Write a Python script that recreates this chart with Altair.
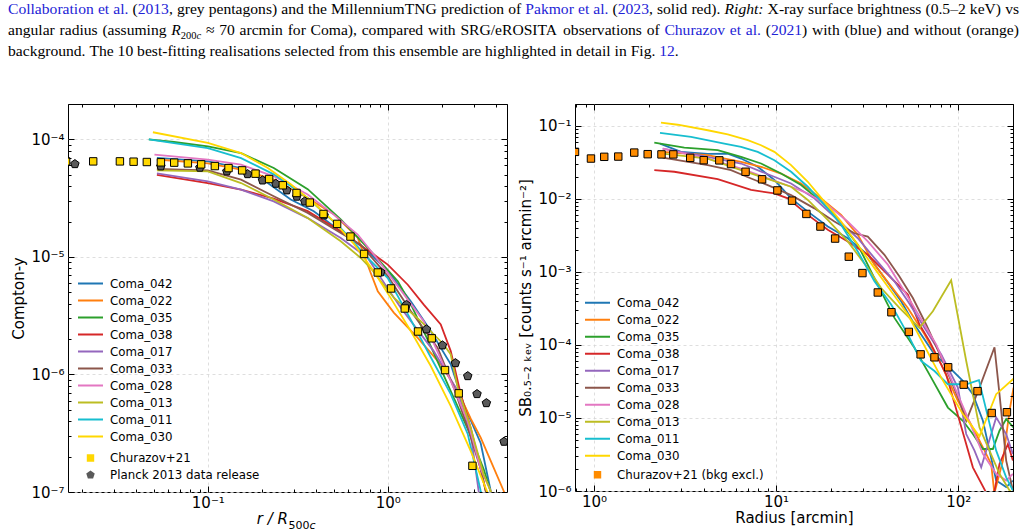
import math
import altair as alt
import pandas as pd

# ------------------------------------------------------------------ series
names = ["Coma_042", "Coma_022", "Coma_035", "Coma_038", "Coma_017",
         "Coma_033", "Coma_028", "Coma_013", "Coma_011", "Coma_030"]
colors = ["#1f77b4", "#ff7f0e", "#2ca02c", "#d62728", "#9467bd",
          "#8c564b", "#e377c2", "#bcbd22", "#17becf", "#ffd700"]

# Compton-y profiles against r / R500c
ycomp_r = {
    "Coma_042": [0.0521, 0.1, 0.153, 0.2154, 0.289, 0.388, 0.548, 0.774, 1.0, 1.342, 1.734, 2.239, 2.643, 3.286, 3.735, 3.85],
    "Coma_022": [0.0521, 0.1, 0.153, 0.2325, 0.359, 0.501, 0.681, 0.736, 0.804, 0.88, 1.08, 1.468, 1.97, 2.448, 2.892, 3.286, 3.735, 4.41, 4.7],
    "Coma_035": [0.047, 0.0648, 0.1, 0.153, 0.2325, 0.359, 0.548, 0.836, 1.137, 1.342, 1.734, 2.239, 2.783, 3.415, 3.735, 3.83],
    "Coma_038": [0.0521, 0.1, 0.153, 0.2325, 0.359, 0.548, 0.836, 1.0, 1.292, 1.585, 1.97, 2.239, 2.545, 2.892, 3.286, 3.503, 3.6],
    "Coma_017": [0.0521, 0.1, 0.153, 0.2325, 0.359, 0.548, 0.774, 1.0, 1.181, 1.8, 2.448, 2.892, 3.2, 3.3],
    "Coma_033": [0.0521, 0.1, 0.153, 0.2325, 0.359, 0.548, 0.708, 1.0, 1.342, 1.895, 2.33, 2.783, 3.286, 3.503, 3.6],
    "Coma_028": [0.0505, 0.1, 0.153, 0.2325, 0.359, 0.501, 0.681, 0.836, 1.137, 1.585, 2.239, 2.783, 3.286, 3.735, 3.85],
    "Coma_013": [0.0521, 0.1, 0.153, 0.2325, 0.359, 0.548, 0.708, 0.804, 1.08, 1.525, 2.047, 2.239, 2.448, 2.892, 3.415, 3.735, 3.85],
    "Coma_011": [0.047, 0.0648, 0.1, 0.153, 0.2325, 0.359, 0.548, 0.774, 1.0, 1.292, 1.734, 2.239, 2.783, 3.286, 3.4],
    "Coma_030": [0.0495, 0.1, 0.153, 0.2154, 0.289, 0.388, 0.501, 0.648, 0.836, 1.039, 1.342, 1.734, 2.239, 2.892, 3.594, 3.7],
}
ycomp_v = {
    "Coma_042": [6.95e-5, 6.5e-5, 5.71e-5, 4.26e-5, 3.08e-5, 2.45e-5, 1.65e-5, 1.12e-5, 7.6e-6, 4.2e-6, 2.34e-6, 1.22e-6, 5.6e-7, 2.6e-7, 1.02e-7, 8.5e-8],
    "Coma_022": [6.74e-5, 6.25e-5, 5.53e-5, 4.55e-5, 3.17e-5, 2.31e-5, 1.46e-5, 1.05e-5, 7.3e-6, 5.11e-6, 3.36e-6, 2.05e-6, 1.22e-6, 7.23e-7, 4.2e-7, 2.9e-7, 1.84e-7, 1.02e-7, 8e-8],
    "Coma_035": [1.0e-4, 9.5e-5, 8.72e-5, 7.65e-5, 5.71e-5, 3.77e-5, 2.09e-5, 1.05e-5, 6.22e-6, 3.96e-6, 1.74e-6, 7.23e-7, 3.45e-7, 1.56e-7, 1.0e-7, 9e-8],
    "Coma_038": [5.0e-5, 4.25e-5, 3.74e-5, 3.13e-5, 2.45e-5, 1.65e-5, 1.05e-5, 8.6e-6, 5.8e-6, 3.93e-6, 2.66e-6, 1.58e-6, 6.8e-7, 3.5e-7, 1.57e-7, 1.02e-7, 9e-8],
    "Coma_017": [5.13e-5, 4.4e-5, 3.74e-5, 2.97e-5, 2.14e-5, 1.45e-5, 9.8e-6, 5.4e-6, 3.69e-6, 1.58e-6, 7.23e-7, 3.12e-7, 1.02e-7, 8.5e-8],
    "Coma_033": [5.6e-5, 5.44e-5, 4.55e-5, 3.28e-5, 2.37e-5, 1.6e-5, 1.27e-5, 6.86e-6, 3.46e-6, 1.68e-6, 7.7e-7, 3.5e-7, 1.57e-7, 1.02e-7, 9e-8],
    "Coma_028": [7.42e-5, 6.72e-5, 6.1e-5, 4.85e-5, 3.4e-5, 2.29e-5, 1.55e-5, 1.05e-5, 5.64e-6, 2.84e-6, 8.8e-7, 4.0e-7, 1.57e-7, 1.02e-7, 9e-8],
    "Coma_013": [5.45e-5, 5.35e-5, 4.25e-5, 3.08e-5, 2.14e-5, 1.36e-5, 9.8e-6, 8.0e-6, 4.5e-6, 2.84e-6, 1.8e-6, 1.48e-6, 7.7e-7, 3.5e-7, 1.4e-7, 1.02e-7, 9e-8],
    "Coma_011": [1.0e-4, 9.3e-5, 8.43e-5, 6.93e-5, 5.04e-5, 3.17e-5, 1.76e-5, 9.8e-6, 6.6e-6, 3.26e-6, 1.4e-6, 6.8e-7, 3.12e-7, 1.02e-7, 8.5e-8],
    "Coma_030": [1.15e-4, 9.35e-5, 7.65e-5, 5.71e-5, 4.15e-5, 2.86e-5, 2.01e-5, 1.29e-5, 7.56e-6, 4.46e-6, 2.34e-6, 1.18e-6, 5.39e-7, 2.23e-7, 9.8e-8, 9e-8],
}

churazov_y_r = [0.0163, 0.02306, 0.03245, 0.03866, 0.04581, 0.05483, 0.06502, 0.07745, 0.0918,
                0.1094, 0.1303, 0.1551, 0.1841, 0.2191, 0.261, 0.3111, 0.3687, 0.4393, 0.5229,
                0.6205, 0.7384, 0.88, 1.043, 1.243, 1.473, 1.756, 2.081, 2.48, 2.955]
churazov_y_v = [6.5e-5, 6.5e-5, 6.5e-5, 6.46e-5, 6.42e-5, 6.38e-5, 6.34e-5, 6.25e-5, 6.13e-5,
                5.93e-5, 5.7e-5, 5.45e-5, 5.11e-5, 4.6e-5, 4.07e-5, 3.5e-5, 2.9e-5, 2.32e-5, 1.91e-5,
                1.49e-5, 1.06e-5, 7.37e-6, 5.39e-6, 3.64e-6, 2.32e-6, 2.03e-6, 1.09e-6, 6.91e-7, 1.67e-7]

planck_r = [0.01824, 0.0548, 0.0903, 0.1275, 0.1662, 0.2013, 0.2386, 0.2748, 0.3122, 0.3458,
            0.4426, 0.9145, 1.27, 1.641, 2.013, 2.377, 2.783, 3.134, 3.534, 4.428]
planck_v = [6.17e-5, 5.9e-5, 5.75e-5, 5.35e-5, 5.07e-5, 4.48e-5, 4.2e-5, 3.69e-5, 3.26e-5, 2.97e-5,
            2.26e-5, 7.41e-6, 3.91e-6, 2.42e-6, 1.77e-6, 1.25e-6, 9.69e-7, 6.82e-7, 5.71e-7, 2.68e-7]

# X-ray surface brightness (0.5-2 keV) against radius in arcmin
sb_r = {
    "Coma_042": [2.305, 3.006, 4.215, 5.428, 6.424, 7.93, 9.79, 12.09, 14.94, 19.23, 24.77, 31.9, 39.37, 48.62, 57.5, 74.1, 89.6, 106.1, 120.4, 136.7, 161.7, 183.5, 199.7],
    "Coma_022": [2.385, 4.215, 6.424, 8.27, 10.65, 13.72, 17.67, 22.76, 28.11, 34.69, 52.93, 65.3, 80.7, 99.6, 122.9, 151.8, 158.0, 176.1, 191.4, 201.3],
    "Coma_035": [2.145, 3.135, 4.783, 6.424, 8.27, 10.65, 13.72, 17.67, 20.91, 28.11, 34.69, 44.67, 57.5, 71.1, 87.8, 106.1, 120.4, 136.7, 155.1, 168.6, 183.5, 201.3],
    "Coma_038": [2.145, 2.763, 4.783, 7.29, 9.79, 11.6, 14.94, 19.23, 24.77, 31.9, 41.1, 52.93, 61.3, 69.6, 85.9, 101.7, 120.4, 142.5, 155.0, 168.6, 187.5, 199.7],
    "Coma_017": [2.385, 4.215, 6.424, 12.09, 16.23, 28.11, 34.69, 44.67, 52.93, 65.3, 80.7, 99.6, 110.7, 122.9, 133.8, 161.7, 183.5, 199.7],
    "Coma_033": [2.385, 4.215, 5.658, 7.29, 9.0, 12.09, 16.23, 20.91, 26.93, 31.9, 39.37, 47.59, 56.4, 66.7, 82.4, 101.7, 110.7, 130.9, 158.3, 168.6, 183.5, 199.7],
    "Coma_028": [2.385, 4.215, 6.424, 9.0, 12.09, 14.94, 19.23, 24.77, 31.9, 41.1, 54.0, 75.7, 110.7, 136.7, 161.7, 183.5, 199.7],
    "Coma_013": [2.385, 4.215, 6.424, 12.09, 14.94, 19.23, 24.77, 31.9, 37.76, 47.59, 61.3, 72.6, 91.5, 110.7, 130.9, 168.6, 191.4, 201.0],
    "Coma_011": [2.305, 3.412, 5.199, 6.424, 7.93, 9.79, 12.09, 14.94, 19.23, 22.76, 28.11, 34.69, 42.85, 52.93, 62.6, 74.1, 87.8, 110.7, 130.0, 161.7, 183.5, 199.7],
    "Coma_030": [2.334, 2.884, 4.215, 5.428, 6.99, 8.27, 9.79, 12.09, 14.94, 18.42, 22.76, 28.11, 34.69, 42.85, 52.93, 80.7, 106.1, 130.9, 161.7, 201.3],
}
sb_v = {
    "Coma_042": [0.0574, 0.0442, 0.0415, 0.0419, 0.0358, 0.0276, 0.0182, 0.0102, 6.71e-3, 4.19e-3, 2.9e-3, 1.72e-3, 8.25e-4, 3.97e-4, 1.91e-4, 7.44e-5, 4.89e-5, 3.22e-5, 2.12e-5, 9.16e-6, 1.39e-6, 1.13e-6, 1.39e-6],
    "Coma_022": [0.0442, 0.040, 0.0323, 0.0276, 0.0223, 0.0163, 0.0102, 6.05e-3, 3.23e-3, 1.26e-3, 3.22e-4, 1.4e-4, 5.44e-5, 1.72e-5, 6.69e-6, 2.35e-6, 9.3e-7, 2.61e-6, 1.24e-5, 2.61e-5],
    "Coma_035": [0.0592, 0.0506, 0.0466, 0.0378, 0.0306, 0.0223, 0.0155, 9.19e-3, 6.05e-3, 2.36e-3, 8.25e-4, 2.35e-4, 9.16e-5, 3.57e-5, 1.39e-5, 9.16e-6, 6.03e-6, 3.76e-6, 3.76e-6, 6.69e-6, 9.66e-6, 7.42e-6],
    "Coma_038": [0.0249, 0.0236, 0.0187, 0.0133, 0.0119, 0.0102, 6.05e-3, 3.78e-3, 2.62e-3, 1.72e-3, 9.19e-4, 4.9e-4, 1.91e-4, 1.13e-4, 3.97e-5, 9.16e-6, 2.11e-6, 9.5e-7, 7.5e-7, 2.35e-6, 4.4e-6, 2.61e-6],
    "Coma_017": [0.049, 0.0378, 0.0306, 0.0163, 0.0102, 2.9e-3, 1.55e-3, 7.44e-4, 3.97e-4, 1.72e-4, 7.44e-5, 2.61e-5, 6.03e-6, 3.57e-6, 2.11e-6, 1.02e-5, 6.03e-6, 3.22e-6],
    "Coma_033": [0.0369, 0.0291, 0.0249, 0.0191, 0.0155, 0.0113, 7.44e-3, 4.9e-3, 3.39e-3, 3.06e-3, 1.72e-3, 8.7e-4, 4.4e-4, 1.91e-4, 6.03e-5, 1.72e-5, 9.16e-6, 2.61e-5, 9.3e-5, 2.12e-5, 2.61e-6, 1.02e-6],
    "Coma_028": [0.049, 0.0358, 0.0261, 0.0191, 0.0147, 0.0119, 8.28e-3, 4.9e-3, 2.62e-3, 1.26e-3, 4.19e-4, 1.02e-4, 1.13e-5, 3.22e-6, 1.72e-6, 1.39e-6, 1.72e-6],
    "Coma_013": [0.0419, 0.0358, 0.0249, 0.0147, 9.69e-3, 5.17e-3, 2.62e-3, 1.13e-3, 6.03e-4, 3.22e-4, 1.72e-4, 2.9e-4, 7.68e-4, 6.03e-5, 7.42e-6, 1.72e-6, 1.02e-6, 9e-7],
    "Coma_011": [0.0803, 0.0708, 0.0574, 0.0517, 0.0442, 0.034, 0.0236, 0.0147, 7.44e-3, 4.42e-3, 1.91e-3, 7.44e-4, 3.58e-4, 1.4e-4, 6.03e-5, 4.4e-5, 2.9e-5, 2.9e-5, 3.3e-5, 3.57e-6, 1.54e-6, 1.02e-6],
    "Coma_030": [0.111, 0.104, 0.0874, 0.077, 0.0638, 0.0545, 0.0442, 0.0291, 0.0172, 9.19e-3, 4.9e-3, 2.36e-3, 1.13e-3, 5.44e-4, 2.61e-4, 3.57e-5, 1.13e-5, 5.6e-6, 2.12e-5, 3.45e-5],
}

churazov_sb_r = [0.787, 0.963, 1.139, 1.36, 1.665, 1.973, 2.349, 2.728, 3.378, 4.006, 4.88, 5.658,
                 6.8, 8.38, 10.17, 12.24, 14.67, 17.52, 21.1, 25.09, 29.8, 36.2, 43.0, 53.6, 62.2,
                 74.1, 88.1, 107.2, 127.7, 152.8, 185.2]
churazov_sb_v = [0.0442, 0.0358, 0.0378, 0.0381, 0.0432, 0.0411, 0.0408, 0.0408, 0.0366, 0.034,
                 0.0338, 0.0301, 0.0236, 0.0186, 0.0131, 9.48e-3, 6.24e-3, 4.19e-3, 2.87e-3, 1.62e-3,
                 9.66e-4, 5.24e-4, 2.81e-4, 1.51e-4, 7.44e-5, 6.78e-5, 4.95e-5, 2.86e-5, 2.33e-5,
                 1.17e-5, 1.2e-5]

# ------------------------------------------------------------------ styling
SANS = "DejaVu Sans"
SERIF = "Liberation Serif"
CAP_SIZE = 15.6
SUB_SIZE = 10.5
LINK = "#2323d6"
PENTAGON = "M0,-1.2L1.141,-0.371L0.705,0.971L-0.705,0.971L-1.141,-0.371Z"
GRID = dict(grid=True, gridColor="#d6d6d6", gridDash=[3, 3], gridWidth=0.8)
LABEL = dict(labelFont=SANS, labelFontSize=15, labelColor="black")
TITLE = dict(titleFont=SANS, titleFontSize=15, titleFontWeight="normal", titleColor="black")
LEG_FONT = 11.8
ROW_CLIP = 16.8
SUP = str.maketrans("-0123456789", "⁻⁰¹²³⁴⁵⁶⁷⁸⁹")


def decade_range(lo, hi):
    return range(math.floor(math.log10(lo)) - 1, math.ceil(math.log10(hi)) + 1)


def inside(v, lo, hi):
    return lo * (1 - 1e-9) <= v <= hi * (1 + 1e-9)


def major_ticks(lo, hi):
    return [10.0 ** e for e in decade_range(lo, hi) if inside(10.0 ** e, lo, hi)]


def minor_ticks(lo, hi):
    return [m * 10.0 ** e for e in decade_range(lo, hi) for m in range(2, 10)
            if inside(m * 10.0 ** e, lo, hi)]


def power_labels(vals):
    e = "round(log(datum.value) / LN10)"
    expr = "''"
    for v in vals:
        k = round(math.log10(v))
        expr = f"{e} == {k} ? '10{str(k).translate(SUP)}' : ({expr})"
    return expr


def long_table(rmap, vmap):
    rows = []
    for n in names:
        for i, (r, v) in enumerate(zip(rmap[n], vmap[n])):
            rows.append({"name": n, "x": r, "v": v, "i": i})
    return pd.DataFrame(rows)


def line_legend(x, y):
    return alt.Legend(orient="none", legendX=x, legendY=y, title=None, symbolType="stroke",
                      symbolSize=625, symbolStrokeWidth=2, clipHeight=ROW_CLIP, rowPadding=0,
                      padding=0, labelOffset=6, labelFont=SANS, labelFontSize=LEG_FONT,
                      labelColor="black")


def marker_legend(x, y, size):
    box = max(math.ceil(math.sqrt(size) + 1), LEG_FONT)
    return alt.Legend(orient="none", legendX=x, legendY=y, title=None, symbolSize=size,
                      symbolStrokeColor="black", symbolStrokeWidth=1, symbolOpacity=1,
                      clipHeight=ROW_CLIP, rowPadding=0, padding=0,
                      symbolOffset=13.5 - box / 2, labelOffset=25.5 - box,
                      labelFont=SANS, labelFontSize=LEG_FONT, labelColor="black")


def panel(lines_df, marks_df, mark_domain, mark_shapes, mark_fills, xdom, ydom, W, H,
          ytitle, xtitle, line_leg, mark_leg, extra):
    xs = alt.Scale(type="log", domain=xdom, nice=False)
    ys = alt.Scale(type="log", domain=ydom, nice=False)
    xmaj, xmin = major_ticks(*xdom), minor_ticks(*xdom)
    ymaj, ymin = major_ticks(*ydom), minor_ticks(*ydom)

    x_axis = alt.Axis(orient="bottom", values=xmaj, labelExpr=power_labels(xmaj), ticks=False,
                      domain=False, labelPadding=3, title=xtitle, titlePadding=1,
                      **GRID, **LABEL, **TITLE)
    y_axis = alt.Axis(orient="left", values=ymaj, labelExpr=power_labels(ymaj), ticks=False,
                      domain=False, labelPadding=4, title=ytitle, titlePadding=4,
                      **GRID, **LABEL, **TITLE)

    lines = alt.Chart(lines_df).mark_line(clip=True, strokeWidth=1.8).encode(
        x=alt.X("x:Q", scale=xs, axis=x_axis),
        y=alt.Y("v:Q", scale=ys, axis=y_axis),
        color=alt.Color("name:N", sort=names,
                        scale=alt.Scale(domain=names, range=colors), legend=line_leg),
        order="i:Q",
    )

    markers = alt.Chart(marks_df).mark_point(
        filled=True, stroke="black", strokeWidth=1, size=55, opacity=1, clip=True
    ).encode(
        x=alt.X("x:Q", scale=xs, axis=None),
        y=alt.Y("v:Q", scale=ys, axis=None),
        shape=alt.Shape("src:N", sort=mark_domain,
                        scale=alt.Scale(domain=mark_domain, range=mark_shapes), legend=mark_leg),
        fill=alt.Fill("src:N", sort=mark_domain,
                      scale=alt.Scale(domain=mark_domain, range=mark_fills), legend=mark_leg),
    )

    # inward-pointing major/minor ticks on all four edges
    common = dict(labels=False, domain=False, grid=False, title=None,
                  tickColor="black", tickWidth=1, zindex=2)
    combos = [("top", "right", xmaj, ymaj, 6), ("top", "right", xmin, ymin, 3),
              ("bottom", "left", xmaj, ymaj, 6), ("bottom", "left", xmin, ymin, 3)]
    frame = []
    for xo, yo, xv, yv, size in combos:
        frame.append(alt.Chart(marks_df).mark_point(opacity=0).encode(
            x=alt.X("x:Q", scale=xs,
                    axis=alt.Axis(orient=xo, offset=-H, values=xv, tickSize=size, **common)),
            y=alt.Y("v:Q", scale=ys,
                    axis=alt.Axis(orient=yo, offset=-W, values=yv, tickSize=size, **common)),
        ))

    return alt.layer(lines, markers, *frame, *extra).resolve_axis(
        x="independent", y="independent"
    ).properties(width=W, height=H)


one = pd.DataFrame({"k": [0]})


def label(text, x, y, size=15, color="black", font=SANS, style="normal", align="left"):
    return alt.Chart(one).mark_text(
        text=text, align=align, baseline="alphabetic", font=font, fontSize=size,
        color=color, fontStyle=style
    ).encode(x=alt.value(x), y=alt.value(y))


# ------------------------------------------------------------------ caption above the panels
# Times-compatible advance widths (per 1000 em) used to justify the caption lines
TNR = {" ": 250, "(": 333, ")": 333, ",": 250, "-": 333, ".": 250, "/": 278, ":": 278,
       "–": 500, "≈": 549, "+": 564,
       "A": 722, "B": 667, "C": 667, "D": 722, "E": 611, "F": 556, "G": 722, "H": 722,
       "I": 333, "J": 389, "K": 722, "L": 611, "M": 889, "N": 722, "O": 722, "P": 556,
       "Q": 722, "R": 667, "S": 556, "T": 611, "U": 722, "V": 722, "W": 944, "X": 722,
       "Y": 722, "Z": 611,
       "a": 444, "b": 500, "c": 444, "d": 500, "e": 444, "f": 333, "g": 500, "h": 500,
       "i": 278, "j": 278, "k": 500, "l": 278, "m": 778, "n": 500, "o": 500, "p": 500,
       "q": 500, "r": 333, "s": 389, "t": 278, "u": 500, "v": 500, "w": 722, "x": 500,
       "y": 500, "z": 444}
TNR_ITALIC = {"R": 611, "i": 278, "g": 500, "h": 500, "t": 278, ":": 333, "c": 444}

KIND_STYLE = {  # kind -> (colour, size, italic, baseline shift)
    "text": ("black", CAP_SIZE, False, 0),
    "link": (LINK, CAP_SIZE, False, 0),
    "italic": ("black", CAP_SIZE, True, 0),
    "sub": ("black", SUB_SIZE, False, 3.5),
    "subitalic": ("black", SUB_SIZE, True, 3.5),
}


def run_width(text, kind):
    _, size, italic, _ = KIND_STYLE[kind]
    table = TNR_ITALIC if italic else {}
    return sum(table.get(ch, TNR.get(ch, 500)) for ch in text) / 1000 * size


def words(s, kind="text"):
    return [[(w, kind)] for w in s.split()]


line1 = (words("Collaboration et al.", "link")
         + [[("(", "text"), ("2013", "link"), (",", "text")]]
         + words("grey pentagons) and the MillenniumTNG prediction of")
         + words("Pakmor et al.", "link")
         + [[("(", "text"), ("2023", "link"), (",", "text")]]
         + words("solid red).")
         + words("Right:", "italic")
         + words("X-ray surface brightness (0.5–2 keV) vs"))
line2 = (words("angular radius (assuming")
         + [[("R", "italic"), ("200", "sub"), ("c", "subitalic")]]
         + words("≈ 70 arcmin for Coma), compared with SRG/eROSITA observations of")
         + words("Churazov et al.", "link")
         + [[("(", "text"), ("2021", "link"), (")", "text")]]
         + words("with (blue) and without (orange)"))
line3 = (words("background. The 10 best-fitting realisations selected from this ensemble "
               "are highlighted in detail in Fig.")
         + [[("12", "link"), (".", "text")]])

CAP_LEFT, CAP_RIGHT = -60, 951          # relative to the left plot area
cap_rows = []
for line_words, baseline, justify in [(line1, -90, True), (line2, -69, True), (line3, -48, False)]:
    widths = [sum(run_width(t, k) for t, k in w) for w in line_words]
    if justify:
        gap = (CAP_RIGHT - CAP_LEFT - sum(widths)) / (len(line_words) - 1)
    else:
        gap = TNR[" "] / 1000 * CAP_SIZE
    x = CAP_LEFT
    for w, ww in zip(line_words, widths):
        px = x
        for t, k in w:
            cap_rows.append({"text": t, "kind": k, "px": px, "py": baseline + KIND_STYLE[k][3]})
            px += run_width(t, k)
        x += ww + gap
cap_df = pd.DataFrame(cap_rows)

caption = []
for kind, (color, size, italic, _) in KIND_STYLE.items():
    caption.append(
        alt.Chart(cap_df[cap_df["kind"] == kind]).mark_text(
            align="left", baseline="alphabetic", font=SERIF, fontSize=size, color=color,
            fontStyle="italic" if italic else "normal"
        ).encode(
            x=alt.X("px:Q", scale=None, axis=None),
            y=alt.Y("py:Q", scale=None, axis=None),
            text="text:N",
        )
    )

# x-axis title of the left panel: r / R_500c
r_title = [
    label("r / R", 220, 420, style="italic", align="right"),
    label("500", 220.5, 424.5, size=11),
    label("c", 241.5, 424.5, size=11, style="italic"),
]

# ------------------------------------------------------------------ panels
ycomp_df = long_table(ycomp_r, ycomp_v)
ymarks = pd.concat([
    pd.DataFrame({"src": "Planck 2013 data release", "x": planck_r, "v": planck_v}),
    pd.DataFrame({"src": "Churazov+21", "x": churazov_y_r, "v": churazov_y_v}),
], ignore_index=True)

left = panel(
    ycomp_df, ymarks,
    ["Churazov+21", "Planck 2013 data release"], ["square", PENTAGON], ["#ffd700", "#5a5a5a"],
    [0.0167, 4.6], [1e-7, 2e-4], 439, 388,
    "Compton-y", None,
    line_legend(9, 179.5 - ROW_CLIP / 2), marker_legend(9, 354 - ROW_CLIP / 2, 55),
    caption + r_title,
)

sb_df = long_table(sb_r, sb_v)
sbmarks = pd.DataFrame({"src": "Churazov+21 (bkg excl.)", "x": churazov_sb_r, "v": churazov_sb_v})

right = panel(
    sb_df, sbmarks,
    ["Churazov+21 (bkg excl.)"], ["square"], ["#ff8c00"],
    [0.787, 200], [1e-6, 0.2], 438, 387,
    "SB₀.₅₋₂ ₖₑᵥ [counts s⁻¹ arcmin⁻²]", "Radius [arcmin]",
    line_legend(9, 198.7 - ROW_CLIP / 2), marker_legend(9, 370.7 - ROW_CLIP / 2, 55),
    [],
)

chart = alt.hconcat(left, right, spacing=68, bounds="flush").resolve_scale(
    color="independent", shape="independent", fill="independent"
).properties(
    padding={"left": 7, "top": 1, "right": 0, "bottom": 0}
).configure_view(stroke="black", strokeWidth=1)

chart.save("out.html", embed_options={"renderer": "svg", "actions": False})
